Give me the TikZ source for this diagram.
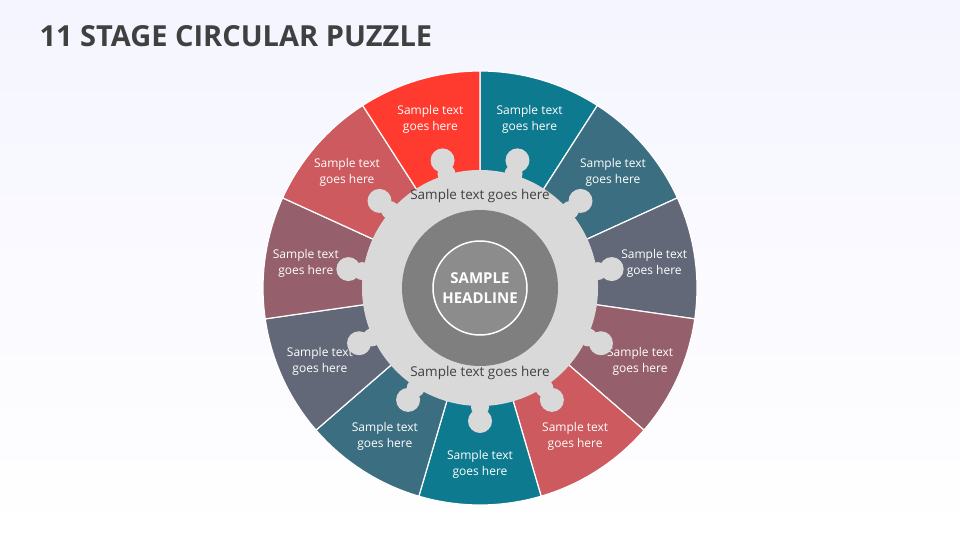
\documentclass[tikz,border=0pt]{standalone}
\usepackage{fontspec}
\setmainfont{Open Sans}
\definecolor{cA}{HTML}{0E7A8F}
\definecolor{cB}{HTML}{3B6E80}
\definecolor{cC}{HTML}{636878}
\definecolor{cD}{HTML}{955F6B}
\definecolor{cE}{HTML}{CC5A5E}
\definecolor{cR}{HTML}{FF3B30}
\definecolor{gearc}{HTML}{D9D9D9}
\definecolor{ringc}{HTML}{7F7F7F}
\definecolor{innerc}{HTML}{8C8C8C}
\definecolor{titlec}{HTML}{404040}
\tikzset{lbl/.style={text=white,font=\fontsize{12}{16}\selectfont,align=center},
 glbl/.style={text=titlec,font=\fontsize{13.5}{15}\selectfont}}
\begin{document}
\begin{tikzpicture}[x=1pt,y=-1pt]
\useasboundingbox (0,0) rectangle (960,540);
\shade[top color=blue!4!white,bottom color=white] (0,0) rectangle (960,540);
\node[anchor=west,text=titlec,font=\fontsize{29}{32}\selectfont\bfseries] (title) at (36,36) {11 STAGE CIRCULAR PUZZLE};
\coordinate (c) at (480,288);
\foreach \i/\col in {0/cA,1/cB,2/cC,3/cD,4/cE,5/cA,6/cB,7/cC,8/cD,9/cE,10/cR}{
  \pgfmathsetmacro{\a}{90-\i*360/11}
  \pgfmathsetmacro{\b}{\a-360/11}
  \pgfmathsetmacro{\m}{\a-180/11}
  \fill[\col,draw=white,line width=1.2pt] (c) -- ++(-\a:217) arc[start angle=-\a,end angle=-\b,radius=217] -- cycle;
  \node[lbl] (l\i) at ([shift={(-\m:176)}]c) {Sample text\\goes here};
  \fill[gearc] ([shift={(-\m:133)}]c) circle[radius=12];
  \fill[gearc] ([shift={(-\m:119)}]c) circle[radius=9];
}
\fill[gearc] (c) circle[radius=118];
\node[glbl] (gt) at (480,196) {Sample text goes here};
\node[glbl] (gb) at (480,373) {Sample text goes here};
\fill[ringc] (c) circle[radius=78];
\node[circle,fill=innerc,draw=white,line width=1.5pt,minimum size=94pt,text=white,align=center,font=\fontsize{15}{20}\selectfont\bfseries] (h) at (c) {SAMPLE\\HEADLINE};
\end{tikzpicture}
\end{document}
